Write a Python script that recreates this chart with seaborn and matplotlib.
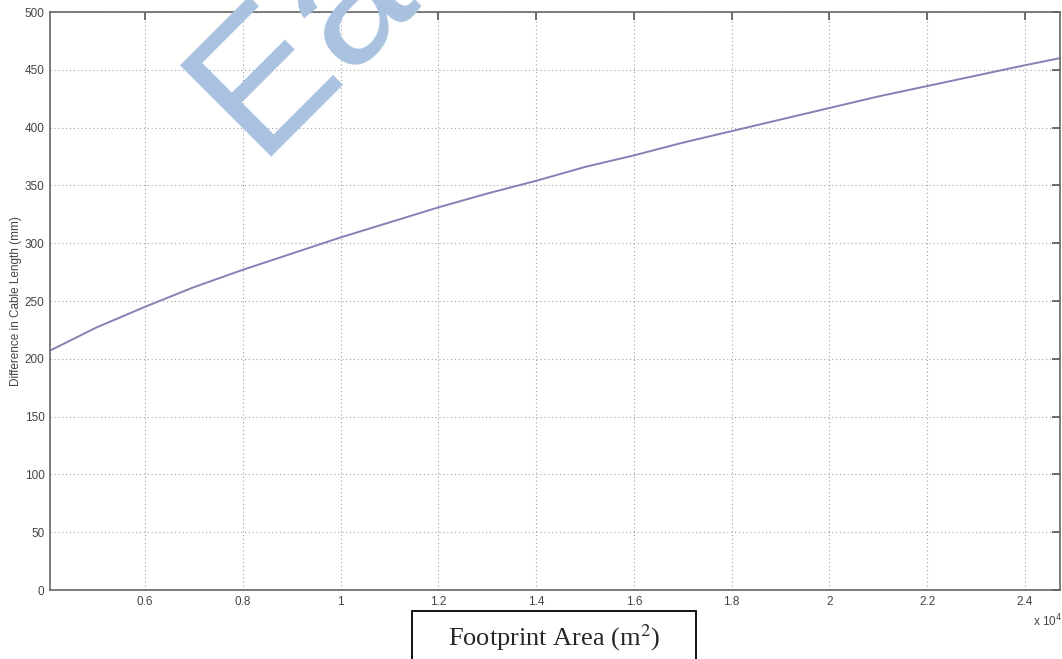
import matplotlib
matplotlib.use("Agg")
import matplotlib.pyplot as plt
from matplotlib.patches import Rectangle
import seaborn as sns
import pandas as pd

# Curve (x in m^2, y in mm)
footprint_area = [4050, 5000, 6000, 7000, 8000, 9000, 10000, 11000, 12000, 13000,
                  14000, 15000, 16000, 17000, 18000, 19000, 20000, 21000, 22000,
                  23000, 24000, 24700]
cable_diff = [207, 227, 245, 262, 277, 291, 305, 318, 331, 343,
              354, 366, 376, 387, 397, 407, 417, 427, 436,
              445, 454, 460]

x_ticks = [0.6, 0.8, 1.0, 1.2, 1.4, 1.6, 1.8, 2.0, 2.2, 2.4]
x_tick_labels = ["0.6", "0.8", "1", "1.2", "1.4", "1.6", "1.8", "2", "2.2", "2.4"]
y_ticks = [0, 50, 100, 150, 200, 250, 300, 350, 400, 450, 500]

sns.set_style("white")
plt.rcParams["font.family"] = ["Liberation Sans", "DejaVu Sans"]

df = pd.DataFrame({"area": [a / 1e4 for a in footprint_area], "diff": cable_diff})

fig = plt.figure(figsize=(10.62, 6.59), dpi=100)
ax = fig.add_axes([0.0471, 0.1047, 0.951, 0.877])

sns.lineplot(data=df, x="area", y="diff", ax=ax, color="#8282b4", linewidth=1.4)

ax.set_xlim(0.4057, 2.4716)
ax.set_ylim(0, 500)
ax.set_xticks(x_ticks)
ax.set_xticklabels(x_tick_labels)
ax.set_yticks(y_ticks)
ax.set_xlabel("")
ax.set_ylabel("Difference in Cable Length (mm)", fontsize=8.5, color="#444444", labelpad=2)

# MATLAB-like box, inward ticks and dotted grid
ax.grid(True, linestyle=(0, (1, 2.5)), color="#a0a0a0", linewidth=0.8)
for s in ax.spines.values():
    s.set_visible(True)
    s.set_color("#666666")
    s.set_linewidth(1.2)
ax.tick_params(direction="in", length=6, width=1.2, color="#555555",
               top=True, right=True, labelsize=8.5, labelcolor="#444444", pad=4)

fig.text(0.9725, 0.049, "x 10$^4$", fontsize=8.5, color="#444444", ha="left")

# boxed x-axis caption
fig.add_artist(Rectangle((0.388, -0.02), 0.2674, 0.0928, transform=fig.transFigure,
                         fc="white", ec="black", lw=1.3))
fig.text(0.5217, 0.0212, "Footprint Area (m$^2$)", fontsize=19,
         family=["Liberation Serif", "DejaVu Serif"], ha="center", va="baseline",
         math_fontfamily="stix")

# watermark
fig.text(0.241, 0.762, "Ea", fontsize=135, color="#a9c2df", rotation=45,
         rotation_mode="anchor", ha="left", va="baseline", zorder=10,
         family=["Liberation Sans", "DejaVu Sans"])

fig.savefig("out.png", dpi=100)
